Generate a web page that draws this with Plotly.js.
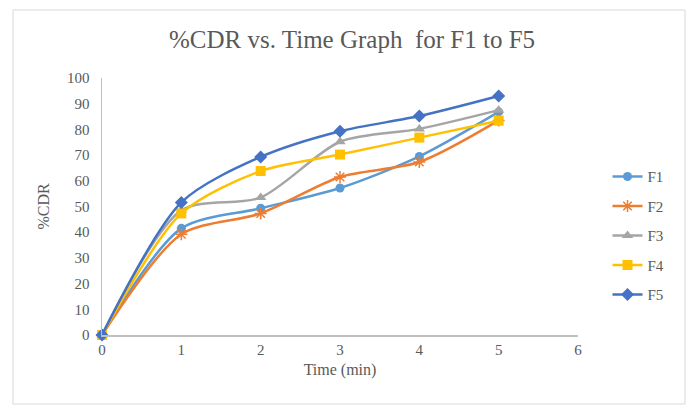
<!DOCTYPE html>
<html>
<head>
<meta charset="utf-8">
<script src="https://cdn.plot.ly/plotly-3.0.1.min.js"></script>
<style>
  html, body { margin: 0; padding: 0; background: #ffffff; }
  #chart { width: 693px; height: 409px; }
</style>
</head>
<body>
<div id="chart"></div>
<script>
const time = [0, 1, 2, 3, 4, 5];
const F1 = [0, 41.5, 49.3, 57.2, 69.5, 86.8];
const F2 = [0, 39.2, 47.3, 61.5, 67.3, 83.5];
const F3 = [0, 48.5, 53.5, 75.2, 80.2, 87.5];
const F4 = [0, 47.3, 63.8, 70.2, 76.8, 83.4];
const F5 = [0, 51.6, 69.3, 79.3, 85.2, 93.0];
const seriesNames = ['F1', 'F2', 'F3', 'F4', 'F5'];
const xTicks = [0, 1, 2, 3, 4, 5, 6];
const yTicks = [0, 10, 20, 30, 40, 50, 60, 70, 80, 90, 100];

const seriesData = [F1, F2, F3, F4, F5];
const colors = ['#5B9BD5', '#ED7D31', '#A5A5A5', '#FFC000', '#4472C4'];
const symbols = ['circle', 'asterisk-open', 'triangle-up', 'square', 'diamond'];
const sizes = [9, 10, 10, 10, 10];

const traces = seriesData.map((ys, i) => ({
  x: time,
  y: ys,
  name: seriesNames[i],
  legendgroup: seriesNames[i],
  type: 'scatter',
  mode: 'lines+markers',
  line: { color: colors[i], width: 2.5, shape: 'spline', smoothing: 0.8 },
  marker: {
    symbol: symbols[i],
    size: sizes[i],
    color: colors[i],
    line: { color: colors[i], width: symbols[i] === 'asterisk-open' ? 1.5 : 0 }
  },
  cliponaxis: false
}));

const font = 'Liberation Serif, Times New Roman, serif';
const layout = {
  width: 693,
  height: 409,
  margin: { l: 102, r: 115, t: 78, b: 74 },
  paper_bgcolor: '#ffffff',
  plot_bgcolor: '#ffffff',
  font: { family: font, color: '#595959', size: 14 },
  title: {
    text: '%CDR vs. Time Graph  for F1 to F5',
    font: { family: font, size: 25, color: '#595959' },
    x: 0.508, xanchor: 'center',
    y: 0.905, yanchor: 'middle'
  },
  xaxis: {
    range: [0, 6],
    tickvals: xTicks,
    ticktext: xTicks.map(String),
    showgrid: false,
    zeroline: false,
    showline: true,
    linecolor: '#BFBFBF',
    linewidth: 1.5,
    ticks: '',
    tickfont: { family: font, size: 15, color: '#595959' },
    title: { text: 'Time (min)', font: { family: font, size: 16, color: '#595959' }, standoff: 7 },
    fixedrange: true
  },
  yaxis: {
    range: [0, 100],
    tickvals: yTicks,
    ticktext: yTicks.map(String),
    showgrid: false,
    zeroline: false,
    showline: true,
    linecolor: '#BFBFBF',
    linewidth: 1.5,
    ticks: '',
    ticklabelstandoff: 8,
    tickfont: { family: font, size: 15, color: '#595959' },
    title: { text: '%CDR', font: { family: font, size: 16, color: '#595959' }, standoff: 13 },
    fixedrange: true
  },
  legend: {
    x: 1.062, xanchor: 'left',
    y: 0.68, yanchor: 'top',
    font: { family: font, size: 15, color: '#595959' },
    traceorder: 'grouped',
    tracegroupgap: 7,
    bgcolor: 'rgba(0,0,0,0)'
  },
  shapes: [{
    type: 'rect', xref: 'paper', yref: 'paper',
    x0: -0.187, x1: 1.2248, y0: -0.2685, y1: 1.2646,
    line: { color: '#D9D9D9', width: 1 },
    layer: 'below'
  }],
  showlegend: true
};

Plotly.newPlot('chart', traces, layout, { displayModeBar: false, staticPlot: true });
</script>
</body>
</html>
